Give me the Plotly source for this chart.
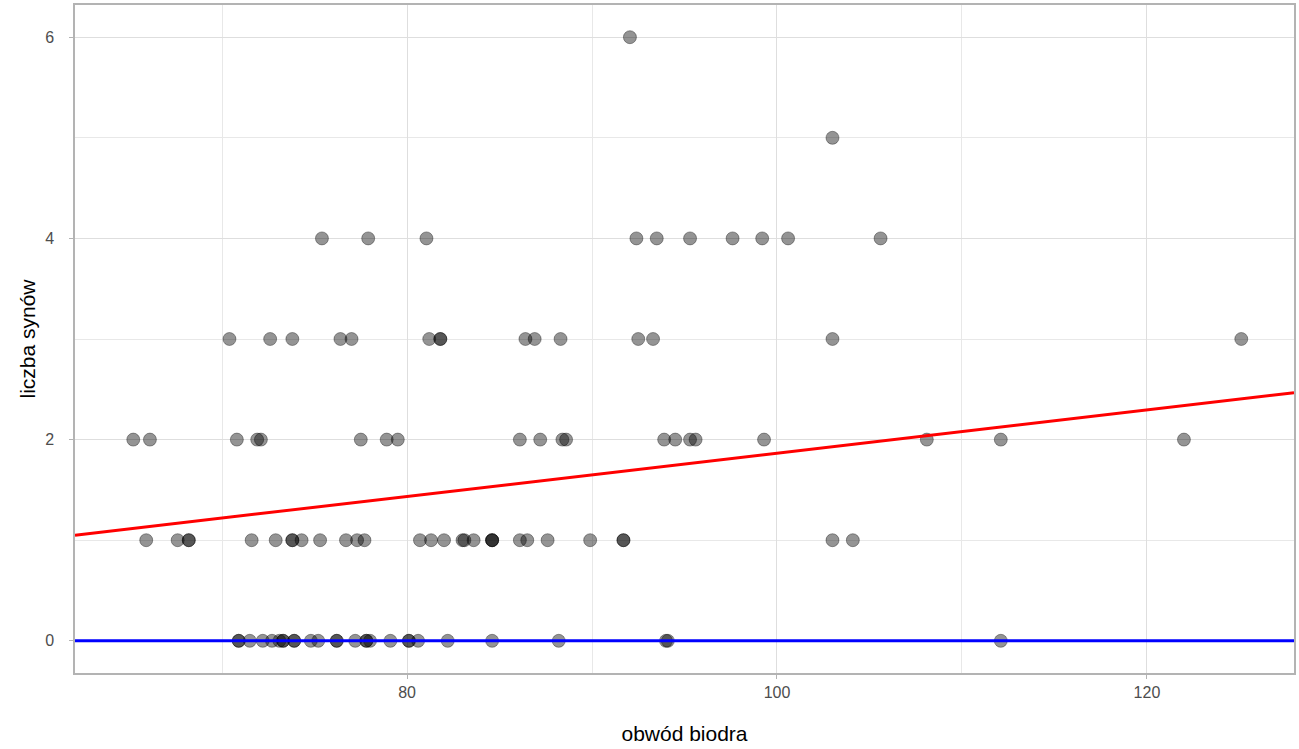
import plotly.graph_objects as go

# obwód biodra values grouped by liczba synów
hips_0 = [70.9, 70.9, 71.5, 72.2, 72.7, 73.1, 73.3, 73.3, 73.9, 73.9, 74.8, 75.2,
          76.2, 76.2, 77.2, 77.8, 77.8, 78.0, 79.1, 80.1, 80.1, 80.6, 82.2, 84.6,
          88.2, 94.0, 94.1, 112.1]
hips_1 = [65.9, 67.6, 68.2, 68.2, 71.6, 72.9, 73.8, 73.8, 74.3, 75.3, 76.7, 77.3,
          77.7, 80.7, 81.3, 82.0, 83.0, 83.1, 83.6, 84.6, 84.6, 84.6, 86.1, 86.5,
          87.6, 89.9, 91.7, 91.7, 103.0, 104.1]
hips_2 = [65.2, 66.1, 70.8, 71.9, 72.1, 77.5, 78.9, 79.5, 86.1, 87.2, 88.4, 88.6,
          93.9, 94.5, 95.3, 95.6, 99.3, 108.1, 112.1, 122.0]
hips_3 = [70.4, 72.6, 73.8, 76.4, 77.0, 81.2, 81.8, 81.8, 86.4, 86.9, 88.3, 92.5,
          93.3, 103.0, 125.1]
hips_4 = [75.4, 77.9, 81.05, 92.4, 93.5, 95.3, 97.6, 99.2, 100.6, 105.6]
hips_5 = [103.0]
hips_6 = [92.05]

groups = [(0, hips_0), (1, hips_1), (2, hips_2), (3, hips_3), (4, hips_4), (5, hips_5), (6, hips_6)]

# fitted lines
red_intercept = -0.285
red_slope = 0.0215
blue_intercept = 0.0
blue_slope = 0.0

x_range = [62.05, 127.95]
y_range = [-0.32, 6.32]
x_ticks = [80, 100, 120]
y_ticks = [0, 2, 4, 6]

xs, ys = [], []
for sons, hips in groups:
    xs += hips
    ys += [sons] * len(hips)

fig = go.Figure()
fig.add_trace(go.Scatter(
    x=xs, y=ys, mode="markers",
    marker=dict(size=13, color="rgba(0,0,0,0.42)",
                line=dict(color="rgba(0,0,0,0.35)", width=1)),
    showlegend=False, hoverinfo="x+y"))

fig.add_trace(go.Scatter(
    x=x_range, y=[red_intercept + red_slope * v for v in x_range],
    mode="lines", line=dict(color="#FF0000", width=3), showlegend=False))
fig.add_trace(go.Scatter(
    x=x_range, y=[blue_intercept + blue_slope * v for v in x_range],
    mode="lines", line=dict(color="#0000FF", width=3), showlegend=False))

axis_font = dict(family="Liberation Sans, Arial, sans-serif", size=16, color="#4D4D4D")
title_font = dict(family="Liberation Sans, Arial, sans-serif", size=21, color="#000000")

fig.update_layout(
    width=1299, height=749,
    margin=dict(l=75, r=5, t=5, b=76, autoexpand=False),
    paper_bgcolor="white", plot_bgcolor="white",
    xaxis=dict(
        range=x_range, tickvals=x_ticks, ticktext=[str(t) for t in x_ticks],
        tickfont=axis_font, ticks="outside", ticklen=4, tickcolor="#B3B3B3",
        showgrid=True, gridcolor="#DEDEDE", gridwidth=1.3,
        minor=dict(dtick=10, tick0=70, showgrid=True, gridcolor="#E8E8E8", gridwidth=1),
        showline=True, linecolor="#B3B3B3", linewidth=1.5, mirror=True,
        zeroline=False, automargin=False,
        title=dict(text="obwód biodra", font=title_font, standoff=26),
    ),
    yaxis=dict(
        range=y_range, tickvals=y_ticks, ticktext=[str(t) for t in y_ticks],
        tickfont=axis_font, ticks="outside", ticklen=4, tickcolor="#B3B3B3",
        ticklabelstandoff=12,
        showgrid=True, gridcolor="#DEDEDE", gridwidth=1.3,
        minor=dict(dtick=1, tick0=1, showgrid=True, gridcolor="#E8E8E8", gridwidth=1),
        showline=True, linecolor="#B3B3B3", linewidth=1.5, mirror=True,
        zeroline=False, automargin=False,
        title=dict(text="liczba synów", font=title_font, standoff=4),
    ),
)

fig.write_html("out.html", config={"displayModeBar": False},
               post_script="document.body.style.margin='0';")
